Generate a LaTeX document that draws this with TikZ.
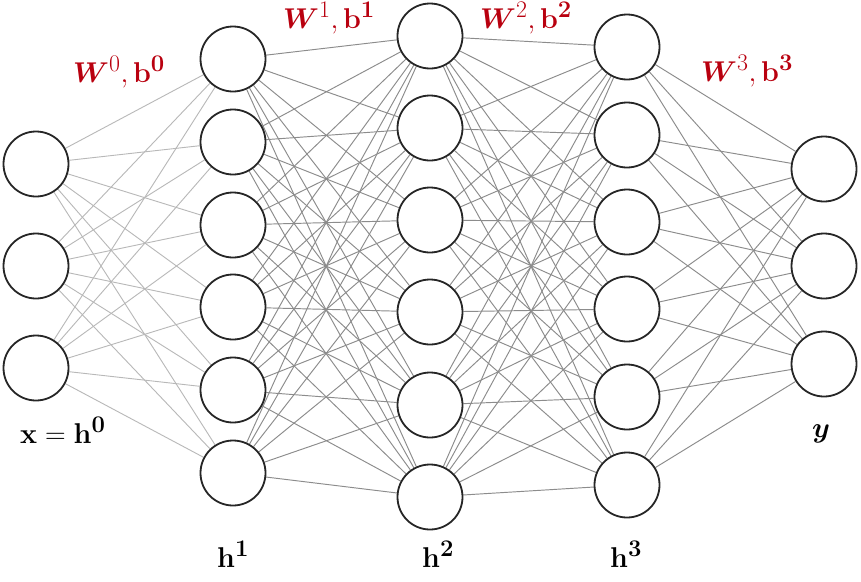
\documentclass[tikz,border=0pt]{standalone}
\usepackage{bm}
\usetikzlibrary{backgrounds}
\definecolor{wred}{RGB}{185,0,15}
\newcommand{\biglbl}[1]{\scalebox{1.15}{\fontsize{24.88}{30}\selectfont #1}}
\begin{document}
\begin{tikzpicture}[x=1pt,y=-1pt,
  neuron/.style={circle,draw=black!85,line width=1.8pt,fill=white,minimum size=65pt,inner sep=0pt},
  edge/.style={draw=black!45,line width=0.95pt},
  edgelight/.style={draw=black!28,line width=0.9pt},
  lbl/.style={inner sep=0pt,anchor=base west},
  wlbl/.style={lbl,text=wred}]
\useasboundingbox (0,0) rectangle (861,581);
% layers
\foreach \y [count=\i] in {164,266,368} \node[neuron] (a\i) at (36,\y) {};
\foreach \y [count=\i] in {59,142,225,307,390,473} \node[neuron] (b\i) at (233,\y) {};
\foreach \y [count=\i] in {36,128,220,312,405,497} \node[neuron] (c\i) at (430,\y) {};
\foreach \y [count=\i] in {47,135,222,309,397,485} \node[neuron] (d\i) at (627,\y) {};
\foreach \y [count=\i] in {169,266,364} \node[neuron] (e\i) at (824,\y) {};
% connections
\begin{pgfonlayer}{background}
\fill[white] (0,0) rectangle (861,581);
\foreach \i in {1,...,3} \foreach \j in {1,...,6} \draw[edgelight] (a\i) -- (b\j);
\foreach \i in {1,...,6} \foreach \j in {1,...,6} \draw[edge] (b\i) -- (c\j);
\foreach \i in {1,...,6} \foreach \j in {1,...,6} \draw[edge] (c\i) -- (d\j);
\foreach \i in {1,...,6} \foreach \j in {1,...,3} \draw[edge] (d\i) -- (e\j);
\end{pgfonlayer}
% labels
\node[lbl] (lx) at (20,443) {\biglbl{$\mathbf{x}=\mathbf{h}^{\mathbf{0}}$}};
\node[lbl] (lh1) at (217,567) {\biglbl{$\mathbf{h}^{\mathbf{1}}$}};
\node[lbl] (lh2) at (422,567) {\biglbl{$\mathbf{h}^{\mathbf{2}}$}};
\node[lbl] (lh3) at (610,567) {\biglbl{$\mathbf{h}^{\mathbf{3}}$}};
\node[lbl] (ly) at (812,437) {\biglbl{$\bm{y}$}};
\node[wlbl] (w0) at (73,82) {\biglbl{$\bm{W}^{0}\mathbf{,}\,\mathbf{b}^{\mathbf{0}}$}};
\node[wlbl] (w1) at (283,28) {\biglbl{$\bm{W}^{1}\mathbf{,}\,\mathbf{b}^{\mathbf{1}}$}};
\node[wlbl] (w2) at (480,28) {\biglbl{$\bm{W}^{2}\mathbf{,}\,\mathbf{b}^{\mathbf{2}}$}};
\node[wlbl] (w3) at (701,81) {\biglbl{$\bm{W}^{3}\mathbf{,}\,\mathbf{b}^{\mathbf{3}}$}};
\end{tikzpicture}
\end{document}
